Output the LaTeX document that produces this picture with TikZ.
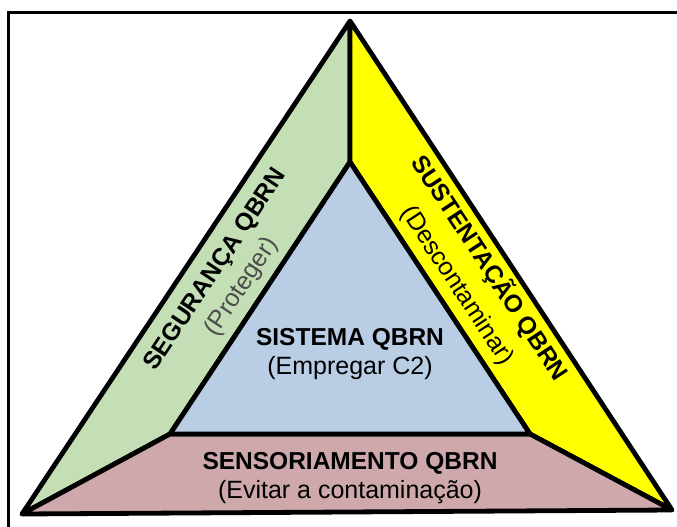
\documentclass[tikz,border=0pt]{standalone}
\usepackage{fontspec}
\setmainfont{Liberation Sans}
\definecolor{bandgreen}{RGB}{196,223,181}
\definecolor{bandyellow}{RGB}{255,255,0}
\definecolor{corebl}{RGB}{185,205,229}
\definecolor{basepink}{RGB}{207,168,172}
\tikzset{
  region/.style={draw=black,line width=4.8pt,line join=round},
  ttl/.style={inner sep=0pt,font=\fontsize{24.5}{29}\selectfont\bfseries},
  sub/.style={inner sep=0pt,font=\fontsize{25}{29}\selectfont},
}
\begin{document}
\begin{tikzpicture}[x=1pt,y=-1pt]
\useasboundingbox (0,0) rectangle (677,527);
\clip (0,0) rectangle (677,527);
\draw[line width=3pt] (8.5,13) rectangle (700,560);
\coordinate (A) at (350,21);
\coordinate (B) at (22,514);
\coordinate (C) at (672,510);
\coordinate (IA) at (350,162);
\coordinate (IL) at (170,434);
\coordinate (IR) at (530,434);
\fill[black!25] ([yshift=3.5pt]B) -- ([yshift=3.5pt]C) -- ([yshift=1pt]C) -- (B) -- cycle;
\path[region,fill=bandgreen] (A) -- (IA) -- (IL) -- (B) -- cycle;
\path[region,fill=bandyellow] (A) -- (C) -- (IR) -- (IA) -- cycle;
\path[region,fill=basepink] (B) -- (IL) -- (IR) -- (C) -- cycle;
\path[region,fill=corebl] (IA) -- (IL) -- (IR) -- cycle;
\node[ttl] (sis) at (350,339) {SISTEMA QBRN};
\node[sub] (sisb) at (350,368) {(Empregar C2)};
\node[ttl] (sen) at (350,463) {SENSORIAMENTO QBRN};
\node[sub] (senb) at (350,492) {(Evitar a contaminação)};
\node[ttl,rotate=56.4] (seg) at (216,270) {SEGURANÇA QBRN};
\node[sub,rotate=56.4,text=black!70] (segb) at (242,287) {(Proteger)};
\node[ttl,rotate=-56.6] (sus) at (490,268) {SUSTENTAÇÃO QBRN};
\node[sub,rotate=-56.6] (susb) at (457,286) {(Descontaminar)};
\end{tikzpicture}
\end{document}
